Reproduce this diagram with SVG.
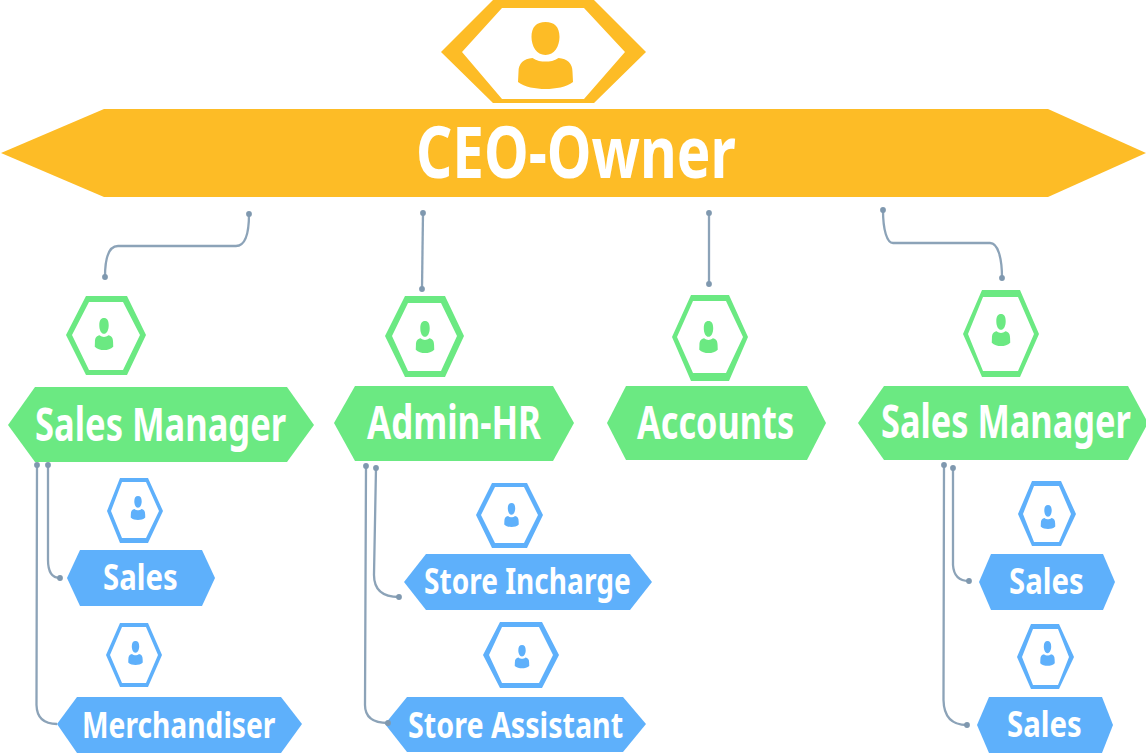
<svg xmlns="http://www.w3.org/2000/svg" width="1146" height="754" viewBox="0 0 1146 754">
<style>
.o{fill:#FDBC26}.g{fill:#6BE982}.b{fill:#5EB0FB}
.h{fill-rule:evenodd}
text{font-family:"Noto Sans","Open Sans",sans-serif;font-weight:700;fill:#fff;text-anchor:start}
.t1{font-size:72px}.t2{font-size:46px}.t3{font-size:36px}
.c{fill:none;stroke:#8CA3B8;stroke-width:2.300;marker-start:url(#dot);marker-end:url(#dot)}
.n{marker-end:none}
</style>
<defs>
<marker id="dot" markerUnits="userSpaceOnUse" markerWidth="7" markerHeight="7" refX="3.500" refY="3.500"><circle cx="3.500" cy="3.500" r="2.900" fill="#7F98AF"/></marker>
<path id="person" d="M0 0C9 0 14 5 14 15C14 24 9 33 0 33C-9 33 -14 24 -14 15C-14 5 -9 0 0 0ZM-13 36C-9 39 -4 39.500 0 39.500C4 39.500 9 39 13 36C22 37 27 41 27 50L27.500 60C21 65 10 67 0 67C-10 67 -21 65 -27.500 60L-27 50C-27 41 -22 37 -13 36Z"/>
</defs>
<g id="ceo">
<path class="o h" d="M441 52L493 0L594 0L646 52L594 103L493 103ZM462 52L502 8L584 8L625 52L584 99L502 99Z"/>
<use href="#person" class="o" transform="translate(545.500 22)"/>
<path class="o" d="M1 153L104 109L1048 109L1146 153L1048 197L104 197Z"/>
<text class="t1" transform="translate(416 178) scale(.786 1)" textLength="407" lengthAdjust="spacingAndGlyphs">CEO-Owner</text>
</g>
<g id="sales-manager-1">
<path class="g h" d="M66 335L86 296L127 296L146 335L127 375L86 375ZM72 335L89 302L123 302L140 335L123 370L89 370Z"/>
<use href="#person" class="g" transform="translate(104 318) scale(.336 .478)"/>
<path class="g" d="M8 425L35 387L287 387L314 425L287 462L35 462Z"/>
<text class="t2" transform="translate(35 441) scale(.75 1)" textLength="335" lengthAdjust="spacingAndGlyphs">Sales Manager</text>
</g>
<g id="admin-hr">
<path class="g h" d="M385 336L405 296L445 296L464 336L445 377L405 377ZM392 336L408 303L441 303L457 336L441 371L408 371Z"/>
<use href="#person" class="g" transform="translate(425 321) scale(.336 .478)"/>
<path class="g" d="M334 423L355 386L553 386L574 423L553 461L355 461Z"/>
<text class="t2" transform="translate(367 439) scale(.75 1)" textLength="232" lengthAdjust="spacingAndGlyphs">Admin-HR</text>
</g>
<g id="accounts">
<path class="g h" d="M672 337L691 295L729 295L748 337L729 381L691 381ZM677 337L693 301L726 301L743 337L726 373L693 373Z"/>
<use href="#person" class="g" transform="translate(708.500 321) scale(.336 .478)"/>
<path class="g" d="M607 423L626 386L807 386L826 423L807 460L626 460Z"/>
<text class="t2" transform="translate(637 439) scale(.745 1)" textLength="211" lengthAdjust="spacingAndGlyphs">Accounts</text>
</g>
<g id="sales-manager-2">
<path class="g h" d="M963 334L982 290L1020 290L1039 334L1020 377L982 377ZM968 334L983 297L1018 297L1034 334L1018 371L983 371Z"/>
<use href="#person" class="g" transform="translate(1001 314) scale(.336 .478)"/>
<path class="g" d="M858 423L884 386L1128 386L1148 423L1128 460L884 460Z"/>
<text class="t2" transform="translate(881 438) scale(.75 1)" textLength="333" lengthAdjust="spacingAndGlyphs">Sales Manager</text>
</g>
<g id="sales-1">
<path class="b h" d="M107 511L120 478L148 478L163 511L148 543L120 543ZM111 511L122 482L146 482L159 511L146 538L122 538Z"/>
<use href="#person" class="b" transform="translate(138 496) scale(.264 .358)"/>
<path class="b" d="M67 578L80 550L202 550L215 578L202 606L80 606Z"/>
<text class="t3" transform="translate(103 590) scale(.82 1)" textLength="91" lengthAdjust="spacingAndGlyphs">Sales</text>
</g>
<g id="merchandiser">
<path class="b h" d="M106 655L120 623L148 623L162 655L148 687L120 687ZM110 655L122 627L146 627L158 655L146 683L122 683Z"/>
<use href="#person" class="b" transform="translate(135.500 641) scale(.264 .358)"/>
<path class="b" d="M57 724L77 697L281 697L302 724L281 753L77 753Z"/>
<text class="t3" transform="translate(82 738) scale(.78 1)" textLength="248" lengthAdjust="spacingAndGlyphs">Merchandiser</text>
</g>
<g id="store-incharge">
<path class="b h" d="M476 515L492 483L527 483L543 515L527 548L492 548ZM481 515L495 487L524 487L538 515L524 543L495 543Z"/>
<use href="#person" class="b" transform="translate(511.500 503) scale(.264 .358)"/>
<path class="b" d="M404 582L426 554L630 554L652 582L630 610L426 610Z"/>
<text class="t3" transform="translate(424 594) scale(.82 1)" textLength="252" lengthAdjust="spacingAndGlyphs">Store Incharge</text>
</g>
<g id="store-assistant">
<path class="b h" d="M483 655L500 622L542 622L559 655L542 688L500 688ZM489 655L502 627L539 627L553 655L539 683L502 683Z"/>
<use href="#person" class="b" transform="translate(522 645) scale(.264 .348)"/>
<path class="b" d="M385 724L407 697L623 697L646 724L623 752L407 752Z"/>
<text class="t3" transform="translate(408 738) scale(.8 1)" textLength="269" lengthAdjust="spacingAndGlyphs">Store Assistant</text>
</g>
<g id="sales-2">
<path class="b h" d="M1018 514L1032 481L1061 481L1076 514L1061 546L1032 546ZM1023 514L1034 486L1059 486L1071 514L1059 542L1034 542Z"/>
<use href="#person" class="b" transform="translate(1048 505) scale(.264 .358)"/>
<path class="b" d="M979 582L991 554L1103 554L1115 582L1103 610L991 610Z"/>
<text class="t3" transform="translate(1009 594) scale(.82 1)" textLength="91" lengthAdjust="spacingAndGlyphs">Sales</text>
</g>
<g id="sales-3">
<path class="b h" d="M1017 657L1031 624L1059 624L1074 657L1059 689L1031 689ZM1022 657L1033 629L1058 629L1069 657L1058 685L1033 685Z"/>
<use href="#person" class="b" transform="translate(1047.500 641) scale(.264 .37)"/>
<path class="b" d="M977 725L989 697L1102 697L1113 725L1102 753L989 753Z"/>
<text class="t3" transform="translate(1007 737) scale(.82 1)" textLength="91" lengthAdjust="spacingAndGlyphs">Sales</text>
</g>
<g id="connectors">
<path class="c" d="M249 214C249 235 245 246 236 246L118 246C108 246 105 260 105 277"/>
<path class="c" d="M423 213L422 289"/>
<path class="c" d="M709 213L709 284"/>
<path class="c" d="M883 210C883 230 887 243 893 243L990 243C998 243 1002 258 1002 278"/>
<path class="c n" d="M37 465L36.500 705Q37 724 57 724"/>
<path class="c" d="M48 465L48 560Q48 578 60 578"/>
<path class="c" d="M366 466L365 705Q365 723 388 723"/>
<path class="c" d="M376 468L374 575Q374 597 399 597"/>
<path class="c" d="M944 465L943.500 700Q944 725 967 725"/>
<path class="c" d="M953 468L953 565Q954 581 969 581"/>
</g>
</svg>
